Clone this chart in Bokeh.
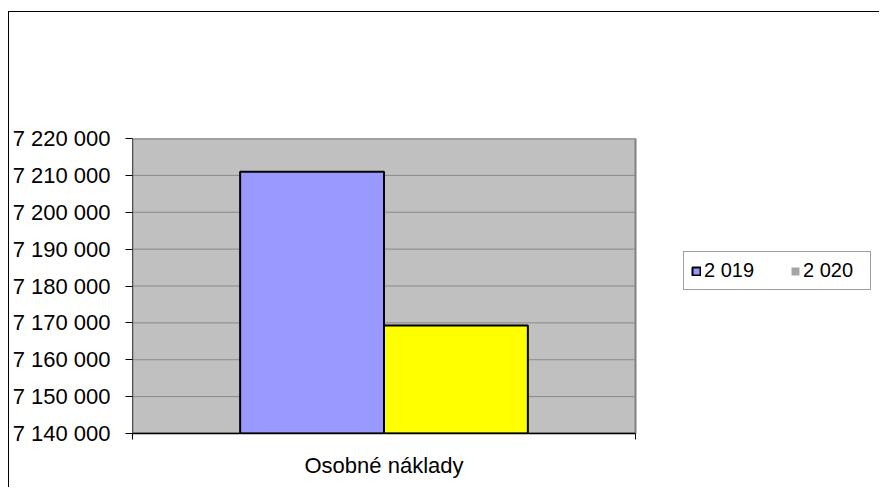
from bokeh.plotting import figure
from bokeh.models import Range1d, FixedTicker, Legend, LegendItem, ColumnDataSource
from bokeh.embed import file_html
from bokeh.resources import INLINE

# ---- data ----
categories = ["Osobné náklady"]
series_names = ["2 019", "2 020"]
values_2019 = [7211000]
values_2020 = [7169300]
y_tick_values = [7140000, 7150000, 7160000, 7170000, 7180000, 7190000, 7200000, 7210000, 7220000]
y_tick_labels = ["7 140 000", "7 150 000", "7 160 000", "7 170 000", "7 180 000",
                 "7 190 000", "7 200 000", "7 210 000", "7 220 000"]

FONT = "Liberation Sans"
BAR_W = 0.286
OFFSET = BAR_W / 2

n_cat = len(categories)
y0 = y_tick_values[0]
y1 = y_tick_values[-1]

# frame spans plot area + legend area; category area is 503px of 748px
FRAME_W = 748
PLOT_W = 503
x_end = n_cat * FRAME_W / PLOT_W

p = figure(width=871, height=476, output_backend="svg", toolbar_location=None,
           x_range=Range1d(0, x_end), y_range=Range1d(y0, y1),
           min_border_left=123, min_border_right=0, min_border_top=126,
           min_border_bottom=55)
p.styles = {"border-top": "1px solid black", "border-left": "1px solid black",
            "margin-top": "11px", "margin-left": "8px"}

p.background_fill_color = "white"
p.border_fill_color = "white"
p.outline_line_color = None
p.xgrid.visible = False
p.ygrid.visible = False

# plot area (grey wall)
p.quad(left=[0], right=[n_cat], bottom=[y0], top=[y1],
       fill_color="#C0C0C0", line_color="#808080", line_width=2)

# horizontal gridlines at tick values
p.segment(x0=[0] * len(y_tick_values), x1=[n_cat] * len(y_tick_values),
          y0=y_tick_values, y1=y_tick_values, line_color="#888888", line_width=1)

centers = [i + 0.5 for i in range(n_cat)]
src19 = ColumnDataSource(dict(x=[c - OFFSET for c in centers], top=values_2019))
src20 = ColumnDataSource(dict(x=[c + OFFSET for c in centers], top=values_2020))

r19 = p.vbar(x="x", top="top", bottom=y0, width=BAR_W, source=src19,
             fill_color="#9999FF", line_color="black", line_width=2)
r20 = p.vbar(x="x", top="top", bottom=y0, width=BAR_W, source=src20,
             fill_color="#FFFF00", line_color="black", line_width=2)
# legend swatch for 2 020 (grey in the original), nothing drawn in the plot
dummy = p.vbar(x=[float("nan")], top=[float("nan")], bottom=y0, width=BAR_W,
               fill_color="#A6A6A6", line_color=None)

# y axis
ya = p.yaxis[0]
ya.ticker = FixedTicker(ticks=y_tick_values)
ya.major_label_overrides = {v: l for v, l in zip(y_tick_values, y_tick_labels)}
ya.major_label_text_font = FONT
ya.major_label_text_font_size = "22px"
ya.major_label_text_color = "black"
ya.major_tick_out = 7
ya.major_tick_in = 0
ya.minor_tick_line_color = None
ya.major_tick_line_color = "black"
ya.axis_line_color = "#505050"
ya.major_label_standoff = 15

# x axis
xa = p.xaxis[0]
xa.bounds = (0, n_cat)
xa.ticker = FixedTicker(ticks=centers, minor_ticks=[float(i) for i in range(n_cat + 1)])
xa.major_label_overrides = {c: n for c, n in zip(centers, categories)}
xa.major_label_text_font = FONT
xa.major_label_text_font_size = "22px"
xa.major_label_text_color = "black"
xa.major_tick_out = 0
xa.major_tick_in = 0
xa.minor_tick_out = 6
xa.minor_tick_in = 0
xa.minor_tick_line_color = "black"
xa.axis_line_color = "black"
xa.axis_line_width = 1.5
xa.major_label_standoff = 13

legend = Legend(items=[LegendItem(label=series_names[0], renderers=[r19]),
                       LegendItem(label=series_names[1], renderers=[dummy])],
                orientation="horizontal", location=(551, 143))
legend.label_text_font = FONT
legend.label_text_font_size = "20px"
legend.label_text_color = "black"
legend.glyph_width = 10
legend.glyph_height = 10
legend.label_standoff = 3
legend.label_width = 60
legend.spacing = 26
legend.padding = 7
legend.margin = 0
legend.label_height = 18
legend.border_line_color = "#404040"
legend.border_line_width = 1
legend.background_fill_color = "white"
legend.background_fill_alpha = 1
p.add_layout(legend, "center")

open("out.html", "w").write(file_html(p, INLINE))
